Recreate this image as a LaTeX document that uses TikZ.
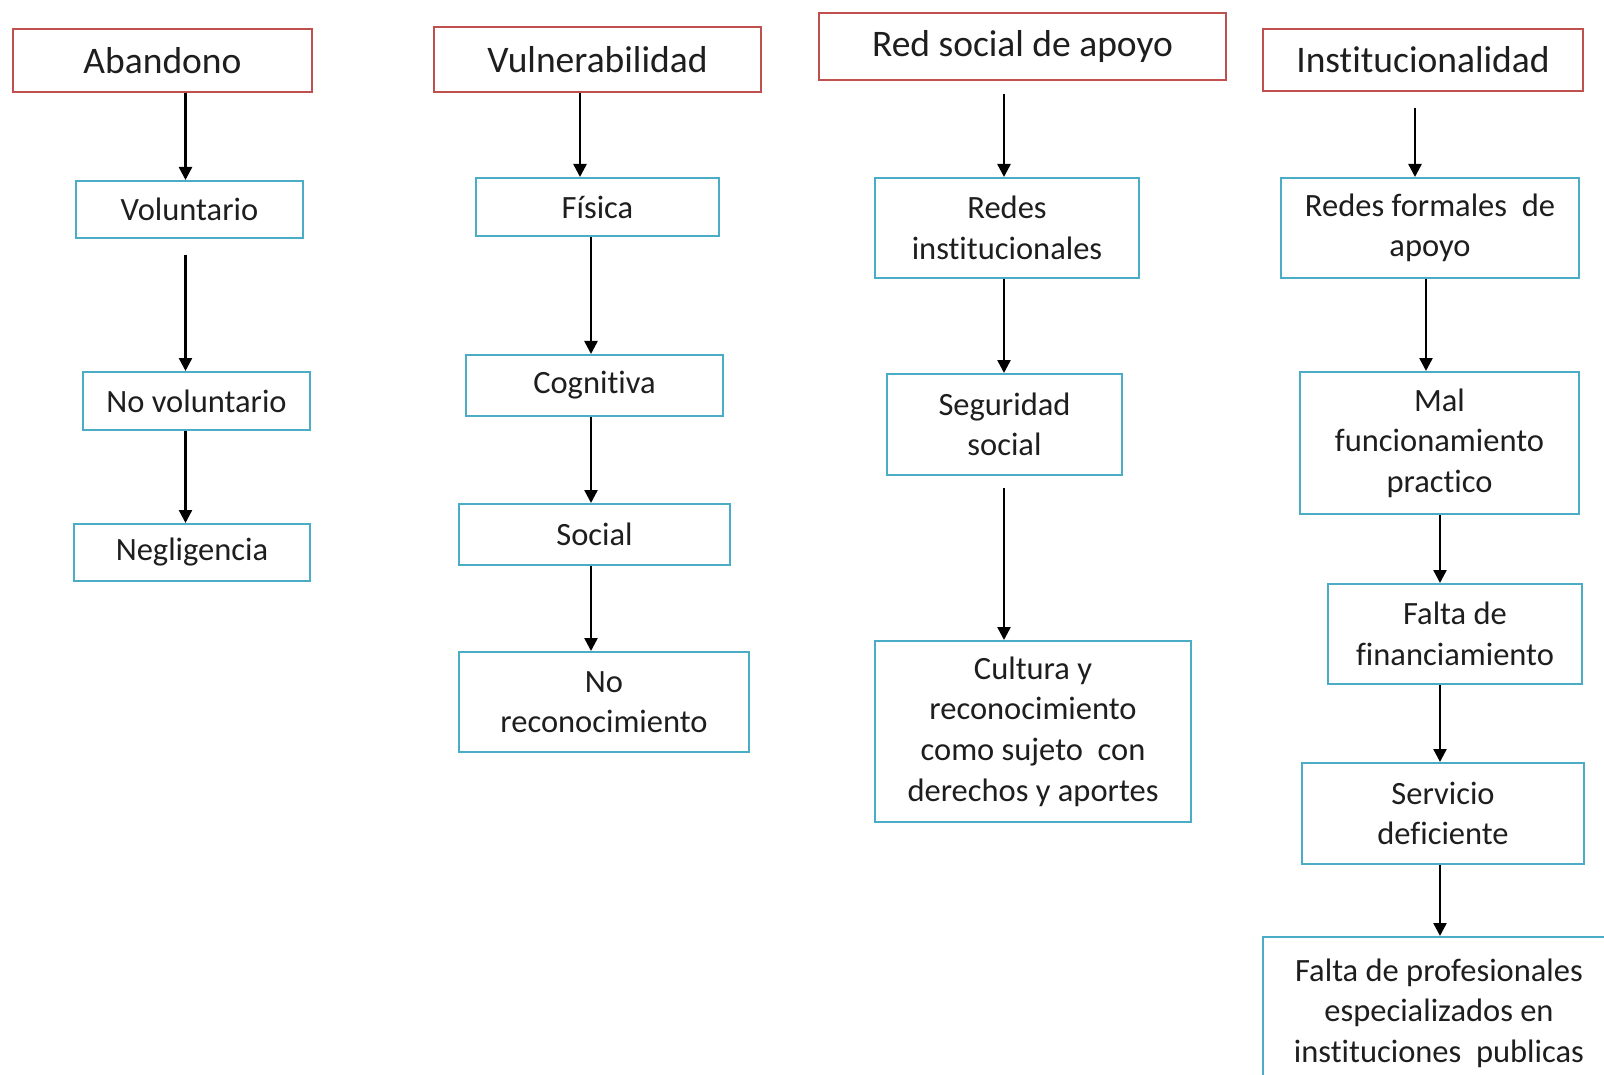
\documentclass[tikz,border=0pt]{standalone}
\usepackage{fontspec}
\setmainfont[Ligatures=NoCommon]{Carlito}
\usetikzlibrary{arrows.meta}
\definecolor{redb}{RGB}{192,80,77}
\definecolor{blueb}{RGB}{75,172,198}
\definecolor{txt}{RGB}{30,30,30}
\tikzset{
 basebox/.style={rectangle, draw, line width=2pt, inner sep=0pt, align=center, text=txt},
 headbox/.style={basebox, draw=redb, font=\fontsize{37.5}{45}\selectfont},
 subbox/.style={basebox, draw=blueb, font=\fontsize{32.5}{40.6}\selectfont},
 arr/.style={line width=2.5pt, -{Triangle[width=13pt,length=13pt]}},
}
\begin{document}
\begin{tikzpicture}[x=1pt,y=-1pt]
\useasboundingbox (0,0) rectangle (1604,1075);
\fill[white] (0,0) rectangle (1604,1075);
\clip (0,0) rectangle (1604,1075);
% column 1
\node[headbox, minimum width=299pt, minimum height=63pt] (aban) at (162.5,60.5) {Abandono};
\node[subbox, minimum width=227pt, minimum height=57pt] (volu) at (189.5,209.5) {Voluntario};
\node[subbox, minimum width=227pt, minimum height=58pt] (novo) at (196.5,401) {No voluntario};
\node[subbox, minimum width=236pt, minimum height=57pt] (negl) at (192,552.5) {Negligencia};
% column 2
\node[headbox, minimum width=327pt, minimum height=65pt] (vuln) at (597.5,59.5) {Vulnerabilidad};
\node[subbox, minimum width=243pt, minimum height=58pt] (fisi) at (597.5,207) {Física};
\node[subbox, minimum width=257pt, minimum height=61pt] (cogn) at (594.5,385.5) {Cognitiva};
\node[subbox, minimum width=271pt, minimum height=61pt] (soci) at (594.5,534.5) {Social};
\node[subbox, minimum width=290pt, minimum height=100pt] (nore) at (604,702) {No\\reconocimiento};
% column 3
\node[headbox, minimum width=407pt, minimum height=67pt] (reds) at (1022.5,46.5) {Red social de apoyo};
\node[subbox, minimum width=264pt, minimum height=100pt] (redi) at (1007,228) {Redes\\institucionales};
\node[subbox, minimum width=235pt, minimum height=101pt] (segu) at (1004.5,424.5) {Seguridad\\social};
\node[subbox, minimum width=316pt, minimum height=181pt] (cult) at (1033,731.5) {Cultura y\\reconocimiento\\como sujeto\ \ con\\derechos y aportes};
% column 4
\node[headbox, minimum width=320pt, minimum height=62pt] (inst) at (1423,60) {Institucionalidad};
\node[subbox, minimum width=298pt, minimum height=100pt] (redf) at (1430,228) {Redes formales\ \ de\\apoyo};
\node[subbox, minimum width=279pt, minimum height=142pt] (malf) at (1439.5,443) {Mal\\funcionamiento\\practico};
\node[subbox, minimum width=254pt, minimum height=100pt] (falf) at (1455,634) {Falta de\\financiamiento};
\node[subbox, minimum width=282pt, minimum height=101pt] (serv) at (1443,813.5) {Servicio\\deficiente};
\node[subbox, minimum width=352pt, minimum height=152pt] (falp) at (1439,1013) {Falta de profesionales\\especializados en\\instituciones\ \ publicas};
% arrow columns
\coordinate (k1) at (185.5,0);
\coordinate (k2a) at (580,0);
\coordinate (k2) at (591,0);
\coordinate (k3) at (1004,0);
\coordinate (k4a) at (1415,0);
\coordinate (k4b) at (1426,0);
\coordinate (k4) at (1440,0);
% arrows column 1
\draw[arr] (aban.south -| k1) -- (volu.north -| k1);
\draw[arr, shorten <=16pt] (volu.south -| k1) -- (novo.north -| k1);
\draw[arr] (novo.south -| k1) -- (negl.north -| k1);
% arrows column 2
\draw[arr] (vuln.south -| k2a) -- (fisi.north -| k2a);
\draw[arr] (fisi.south -| k2) -- (cogn.north -| k2);
\draw[arr] (cogn.south -| k2) -- (soci.north -| k2);
\draw[arr] (soci.south -| k2) -- (nore.north -| k2);
% arrows column 3
\draw[arr, shorten <=13pt] (reds.south -| k3) -- (redi.north -| k3);
\draw[arr] (redi.south -| k3) -- (segu.north -| k3);
\draw[arr, shorten <=12pt] (segu.south -| k3) -- (cult.north -| k3);
% arrows column 4
\draw[arr, shorten <=16pt] (inst.south -| k4a) -- (redf.north -| k4a);
\draw[arr] (redf.south -| k4b) -- (malf.north -| k4b);
\draw[arr] (malf.south -| k4) -- (falf.north -| k4);
\draw[arr] (falf.south -| k4) -- (serv.north -| k4);
\draw[arr] (serv.south -| k4) -- (falp.north -| k4);
\end{tikzpicture}
\end{document}
